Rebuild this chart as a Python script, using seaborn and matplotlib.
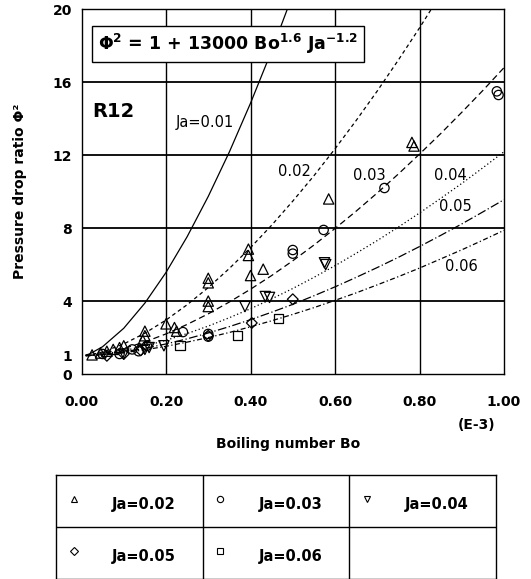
import matplotlib
matplotlib.use('Agg')
import matplotlib.pyplot as plt
import seaborn as sns

# correlation curves, Phi^2 at these Bo (E-3)
curve_bo = [0.01, 0.02, 0.05, 0.10, 0.15, 0.20, 0.25, 0.30, 0.35, 0.40, 0.45,
            0.50, 0.55, 0.60, 0.65, 0.70, 0.75, 0.80, 0.85, 0.90, 0.95, 1.00]
curve_ja001 = [1.04, 1.11, 1.50, 2.51, 3.89, 5.57, 7.53, 9.74, 12.18, 14.85, 17.72, 20.80]
curve_ja002 = [1.02, 1.05, 1.21, 1.65, 2.24, 2.96, 3.80, 4.74, 5.79, 6.93, 8.16,
               9.48, 10.87, 12.35, 13.90, 15.52, 17.22, 18.98, 20.82]
curve_ja003 = [1.01, 1.03, 1.13, 1.40, 1.76, 2.20, 2.72, 3.30, 3.95, 4.65, 5.40,
               6.21, 7.07, 7.98, 8.93, 9.93, 10.97, 12.06, 13.18, 14.35, 15.55, 16.80]
curve_ja004 = [1.01, 1.02, 1.09, 1.28, 1.54, 1.85, 2.22, 2.63, 3.09, 3.58, 4.12,
               4.69, 5.30, 5.94, 6.62, 7.32, 8.06, 8.83, 9.63, 10.45, 11.31, 12.19]
curve_ja005 = [1.01, 1.02, 1.07, 1.22, 1.41, 1.65, 1.93, 2.25, 2.60, 2.98, 3.39,
               3.82, 4.29, 4.78, 5.30, 5.84, 6.40, 6.99, 7.60, 8.23, 8.89, 9.56]
curve_ja006 = [1.00, 1.01, 1.06, 1.17, 1.33, 1.52, 1.75, 2.00, 2.28, 2.59, 2.92,
               3.27, 3.64, 4.04, 4.45, 4.89, 5.34, 5.81, 6.31, 6.81, 7.34, 7.88]
curve_labels = ['Ja=0.01', '0.02', '0.03', '0.04', '0.05', '0.06']

# measured points
bo_ja002 = [0.025, 0.045, 0.06, 0.075, 0.09, 0.10, 0.145, 0.15, 0.15, 0.20, 0.22, 0.225,
            0.30, 0.30, 0.30, 0.30, 0.395, 0.395, 0.40, 0.43, 0.585, 0.782, 0.787]
phi_ja002 = [1.05, 1.15, 1.25, 1.35, 1.45, 1.55, 1.85, 2.10, 2.35, 2.75, 2.55, 2.35,
             5.25, 5.00, 4.00, 3.70, 6.85, 6.50, 5.40, 5.75, 9.60, 12.70, 12.50]
bo_ja003 = [0.05, 0.09, 0.12, 0.135, 0.155, 0.24, 0.30, 0.30, 0.50, 0.50, 0.573, 0.717, 0.983, 0.987]
phi_ja003 = [1.10, 1.10, 1.35, 1.25, 1.55, 2.30, 2.20, 2.05, 6.80, 6.60, 7.90, 10.20, 15.50, 15.30]
bo_ja004 = [0.10, 0.15, 0.16, 0.195, 0.387, 0.435, 0.445, 0.575, 0.578]
phi_ja004 = [1.10, 1.35, 1.45, 1.55, 3.70, 4.25, 4.20, 6.10, 6.00]
bo_ja005 = [0.06, 0.10, 0.14, 0.30, 0.403, 0.50]
phi_ja005 = [1.00, 1.10, 1.30, 2.10, 2.80, 4.10]
bo_ja006 = [0.233, 0.37, 0.466]
phi_ja006 = [1.55, 2.10, 3.05]
legend_labels = ['Ja=0.02', 'Ja=0.03', 'Ja=0.04', 'Ja=0.05', 'Ja=0.06']

x_ticks = [0.0, 0.2, 0.4, 0.6, 0.8, 1.0]
x_ticklabels = ['0.00', '0.20', '0.40', '0.60', '0.80', '1.00']
y_ticks = [0, 1, 4, 8, 12, 16, 20]

sns.set_style('white')
plt.rcParams['font.family'] = ['DejaVu Sans']
plt.rcParams['text.color'] = 'black'
plt.rcParams['axes.labelcolor'] = 'black'
plt.rcParams['xtick.color'] = 'black'
plt.rcParams['ytick.color'] = 'black'
plt.rcParams['mathtext.fontset'] = 'custom'
plt.rcParams['mathtext.rm'] = 'DejaVu Sans:bold'
plt.rcParams['mathtext.it'] = 'DejaVu Sans:bold'
plt.rcParams['mathtext.bf'] = 'DejaVu Sans:bold'
plt.rcParams['mathtext.default'] = 'rm'

fig = plt.figure(figsize=(5.31, 5.79), dpi=100)
ax = fig.add_axes([0.1535, 0.354, 0.7957, 0.630])

curves = [curve_ja001, curve_ja002, curve_ja003, curve_ja004, curve_ja005, curve_ja006]
styles = ['-', (0, (3, 2.5)), (0, (5, 3)), (0, (1, 2)), (0, (7, 2, 1, 2)), (0, (4, 2, 1, 2))]
for vals, ls in zip(curves, styles):
    sns.lineplot(x=curve_bo[:len(vals)], y=vals, color='black', linewidth=0.9,
                 linestyle=ls, errorbar=None, ax=ax, zorder=3)

point_sets = [(bo_ja002, phi_ja002), (bo_ja003, phi_ja003), (bo_ja004, phi_ja004),
              (bo_ja005, phi_ja005), (bo_ja006, phi_ja006)]
markers = ['^', 'o', 'v', 'D', 's']
msizes = [55, 45, 55, 30, 45]
for (bx, py), m, s in zip(point_sets, markers, msizes):
    sns.scatterplot(x=bx, y=py, marker=m, s=s, color='black', facecolors='none',
                    edgecolor='black', linewidth=0.9, ax=ax, zorder=4)

# grid
for gx in [0.2, 0.4, 0.6, 0.8]:
    ax.axvline(gx, color='black', lw=1.0, zorder=1)
for gy in [4, 8, 12, 16]:
    ax.axhline(gy, color='black', lw=1.3, zorder=1)

ax.set_xlim(0, 1.0)
ax.set_ylim(0, 20)
ax.set_xticks(x_ticks)
ax.set_xticklabels(x_ticklabels)
ax.set_yticks(y_ticks)
ax.tick_params(axis='x', length=0, pad=15, labelsize=10)
ax.tick_params(axis='y', length=0, pad=7, labelsize=10)
for lab in ax.get_xticklabels() + ax.get_yticklabels():
    lab.set_fontweight('bold')
for sp in ax.spines.values():
    sp.set_color('black')
    sp.set_linewidth(1.0)

ax.set_xlabel('Boiling number Bo', fontsize=10, fontweight='bold')
ax.xaxis.set_label_coords(0.489, -0.173)
ax.set_ylabel('Pressure drop ratio Φ²', fontsize=10, fontweight='bold')
ax.yaxis.set_label_coords(-0.13, 0.5)
ax.text(0.979, -0.14, '(E-3)', transform=ax.transAxes, ha='right', va='center',
        fontsize=10, fontweight='bold')

# formula box and labels
ax.text(0.04, 18.1, r'$\Phi^2$ = 1 + 13000 Bo$^{1.6}$ Ja$^{-1.2}$', fontsize=12.5,
        fontweight='bold', va='center', ha='left', zorder=6,
        bbox=dict(boxstyle='square,pad=0.35', fc='white', ec='black', lw=1.0))
ax.text(0.025, 14.4, 'R12', fontsize=14, fontweight='bold', va='center', ha='left')
label_pos = [(0.292, 13.8), (0.505, 11.1), (0.68, 10.9), (0.872, 10.9), (0.885, 9.2), (0.90, 5.9)]
for txt, (lx, ly) in zip(curve_labels, label_pos):
    ax.text(lx, ly, txt, fontsize=10.5, ha='center', va='center', zorder=5)

# legend table below the plot
tax = fig.add_axes([56 / 531, 0.0, 440 / 531, 104 / 579])
tax.set_xlim(0, 3)
tax.set_ylim(0, 2)
tax.set_xticks([])
tax.set_yticks([])
for sp in tax.spines.values():
    sp.set_color('black')
    sp.set_linewidth(1.0)
for cx in [1, 2]:
    tax.axvline(cx, color='black', lw=1.0)
tax.axhline(1, color='black', lw=1.0)
for k, (lab, m) in enumerate(zip(legend_labels, markers)):
    col = k % 3
    row = 1 - k // 3
    tax.plot(col + 0.12, row + 0.54, marker=m, ms=4.5, mfc='none', mec='black', mew=0.8)
    tax.text(col + 0.38, row + 0.44, lab, fontsize=10.5, fontweight='bold',
             ha='left', va='center')

plt.savefig('out.png', dpi=100)
